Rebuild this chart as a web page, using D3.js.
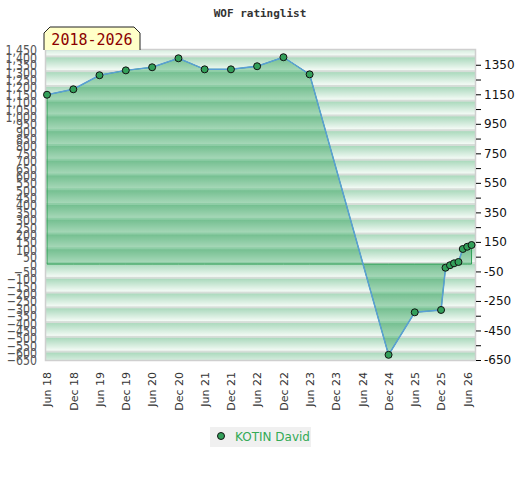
<!DOCTYPE html>
<html>
<head>
<meta charset="utf-8">
<script src="https://cdn.jsdelivr.net/npm/d3@7.9.0/dist/d3.min.js"></script>
<style>
  body { margin: 0; background: #fff; }
  svg { display: block; }
</style>
</head>
<body>
<svg id="chart" width="520" height="480"></svg>
<script>
// rating lists (month) and ratings
const months = ['2018-06', '2018-12', '2019-06', '2019-12', '2020-06', '2020-12',
  '2021-06', '2021-12', '2022-06', '2022-12', '2023-06', '2024-12', '2025-06',
  '2025-12', '2026-01', '2026-02', '2026-03', '2026-04', '2026-05', '2026-06', '2026-07'];
const ratings = [1147, 1184, 1279, 1312, 1333, 1394, 1319, 1319, 1340, 1401, 1285,
  -615, -327, -311, -25, -8, 5, 14, 102, 117, 129];
const leftTicks = d3.range(-650, 1451, 50);
const rightTicks = d3.range(-650, 1351, 100);
const rightLabels = d3.range(-650, 1351, 200);
const xTickLabels = ['Jun 18', 'Dec 18', 'Jun 19', 'Dec 19', 'Jun 20', 'Dec 20', 'Jun 21',
  'Dec 21', 'Jun 22', 'Dec 22', 'Jun 23', 'Dec 23', 'Jun 24', 'Dec 24', 'Jun 25', 'Dec 25', 'Jun 26'];
const playerName = 'KOTIN David';
const periodLabel = '2018-2026';

const parseMonth = d3.timeParse('%Y-%m');
const data = months.map((m, i) => ({ date: parseMonth(m), value: ratings[i] }));
const xTickDates = xTickLabels.map((_, i) => d3.timeMonth.offset(parseMonth('2018-06'), i * 6));

const plotLeft = 46, plotRight = 475, plotTop = 50, plotBottom = 360;
const x = d3.scaleTime()
  .domain([new Date(2018, 4, 25), new Date(2026, 6, 25)])
  .range([plotLeft, plotRight]);
const y = d3.scaleLinear().domain([-650, 1450]).range([plotBottom, plotTop]);

const svg = d3.select('#chart');
const defs = svg.append('defs');

// striped backgrounds, one band per 100 rating points
const band = y(0) - y(100);
function stripes(id, c1, c2, c3) {
  const g = defs.append('linearGradient').attr('id', id + '-g')
    .attr('x1', 0).attr('y1', 0).attr('x2', 0).attr('y2', 1);
  g.append('stop').attr('offset', '0%').attr('stop-color', c1);
  g.append('stop').attr('offset', '85%').attr('stop-color', c2);
  g.append('stop').attr('offset', '85%').attr('stop-color', c3);
  g.append('stop').attr('offset', '100%').attr('stop-color', c3);
  const p = defs.append('pattern').attr('id', id)
    .attr('patternUnits', 'userSpaceOnUse')
    .attr('x', 0).attr('y', y(0)).attr('width', 520).attr('height', band);
  p.append('rect').attr('width', 520).attr('height', band).attr('fill', `url(#${id}-g)`);
}
stripes('bg', '#aad9bc', '#f3faf5', '#d6ddd8');
stripes('fg', '#74bf90', '#a5d7b7', '#8ecda6');

svg.append('rect')
  .attr('x', plotLeft).attr('y', plotTop)
  .attr('width', plotRight - plotLeft).attr('height', plotBottom - plotTop)
  .attr('fill', 'url(#bg)');

// area down to zero
const area = d3.area()
  .x(d => x(d.date))
  .y0(y(0))
  .y1(d => y(d.value));
svg.append('path')
  .datum(data)
  .attr('d', area)
  .attr('fill', 'url(#fg)')
  .attr('stroke', '#2f9e55')
  .attr('stroke-width', 1);

// frame
svg.append('rect')
  .attr('x', plotLeft - 0.5).attr('y', plotTop - 0.5)
  .attr('width', plotRight - plotLeft + 1).attr('height', plotBottom - plotTop + 1)
  .attr('fill', 'none')
  .attr('stroke', '#cfcfcf')
  .attr('stroke-width', 1.5);

const line = d3.line().x(d => x(d.date)).y(d => y(d.value));
svg.append('path')
  .datum(data)
  .attr('d', line)
  .attr('fill', 'none')
  .attr('stroke', '#5a9fd6')
  .attr('stroke-width', 1.5);

svg.append('g')
  .selectAll('circle')
  .data(data)
  .join('circle')
  .attr('cx', d => x(d.date))
  .attr('cy', d => y(d.value))
  .attr('r', 3.5)
  .attr('fill', '#33a05a')
  .attr('stroke', '#111')
  .attr('stroke-width', 1);

// left axis: every 50, tall and crowded like the original
const leftAxis = svg.append('g')
  .attr('transform', `translate(${plotLeft},0)`)
  .call(d3.axisLeft(y).tickValues(leftTicks).tickSize(0).tickPadding(9));
leftAxis.select('.domain').remove();
leftAxis.selectAll('text')
  .attr('font-family', 'DejaVu Sans')
  .attr('font-size', 11)
  .attr('fill', '#555')
  .attr('dy', null)
  .attr('dominant-baseline', 'central')
  .attr('transform', 'scale(1,1.25)');

// right axis
const rightAxis = svg.append('g')
  .attr('transform', `translate(${plotRight + 1},0)`)
  .call(d3.axisRight(y).tickValues(rightTicks).tickSize(5).tickPadding(3)
    .tickFormat(d => rightLabels.includes(d) ? d : ''));
rightAxis.select('.domain').remove();
rightAxis.selectAll('line').attr('stroke', '#000');
rightAxis.selectAll('text')
  .attr('font-family', 'DejaVu Sans')
  .attr('font-size', 12)
  .attr('fill', '#111');

// bottom axis, rotated labels
const xAxis = svg.append('g')
  .attr('transform', `translate(0,${plotBottom})`)
  .call(d3.axisBottom(x).tickValues(xTickDates).tickSize(0)
    .tickFormat((d, i) => xTickLabels[i]));
xAxis.select('.domain').remove();
xAxis.selectAll('text')
  .attr('font-family', 'DejaVu Sans')
  .attr('font-size', 11)
  .attr('fill', '#333')
  .attr('text-anchor', 'end')
  .attr('dy', '0.35em')
  .attr('y', 0)
  .attr('transform', 'translate(0,12) rotate(-90)');

// title
svg.append('text')
  .attr('x', 260).attr('y', 17)
  .attr('text-anchor', 'middle')
  .attr('font-family', 'DejaVu Sans Mono')
  .attr('font-weight', 'bold')
  .attr('font-size', 11)
  .attr('fill', '#333')
  .text('WOF ratinglist');

// period tag
svg.append('path')
  .attr('d', 'M44,50 L44,33 L50,27 L134,27 L140,33 L140,50')
  .attr('fill', '#ffffc8')
  .attr('stroke', '#222')
  .attr('stroke-width', 1);
svg.append('text')
  .attr('x', 92).attr('y', 45)
  .attr('text-anchor', 'middle')
  .attr('font-family', 'DejaVu Sans Mono')
  .attr('font-size', 15)
  .attr('fill', '#8b0000')
  .text(periodLabel);

// legend
const legend = svg.append('g').attr('transform', 'translate(210,427)');
legend.append('rect').attr('width', 101).attr('height', 20).attr('fill', '#f0f0f0');
legend.append('circle').attr('cx', 11).attr('cy', 9).attr('r', 3.5)
  .attr('fill', '#33a05a').attr('stroke', '#111').attr('stroke-width', 1);
legend.append('text').attr('x', 25).attr('y', 14)
  .attr('font-family', 'DejaVu Sans')
  .attr('font-size', 12)
  .attr('fill', '#33aa55')
  .text(playerName);
</script>
</body>
</html>
